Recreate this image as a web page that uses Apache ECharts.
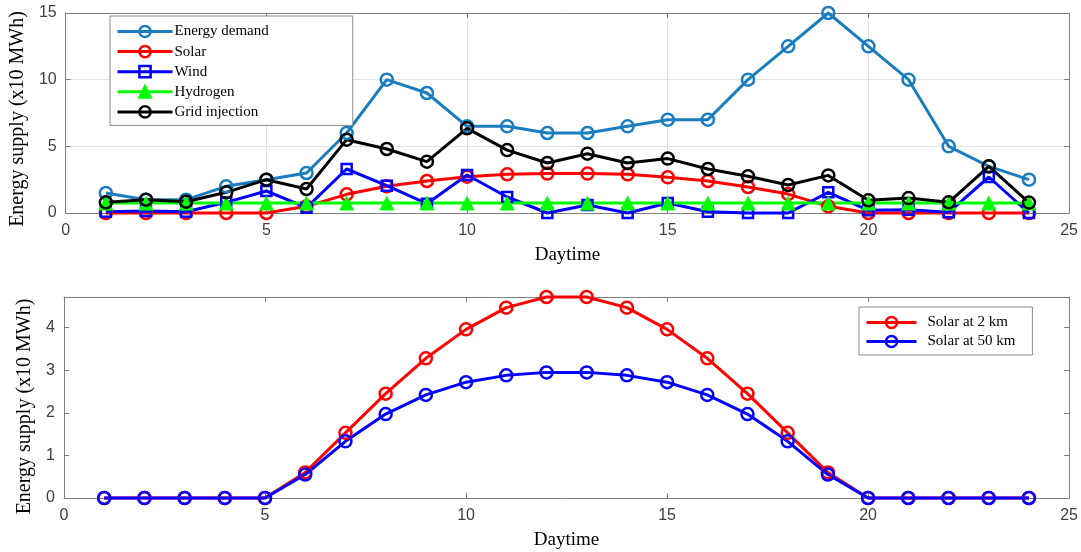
<!DOCTYPE html>
<html>
<head>
<meta charset="utf-8">
<script src="https://cdn.jsdelivr.net/npm/echarts@6/dist/echarts.min.js"></script>
<style>
  html, body { margin: 0; padding: 0; background: #fff; }
  #chart { width: 1081px; height: 552px; }
</style>
</head>
<body>
<div id="chart"></div>
<script>
// Hours of the day (x axis)
const hours = [1, 2, 3, 4, 5, 6, 7, 8, 9, 10, 11, 12, 13, 14, 15, 16, 17, 18, 19, 20, 21, 22, 23, 24];

// Upper panel: hourly demand and supply mix (x10 MWh)
const energyDemand = [1.5, 1.0, 1.0, 2.0, 2.5, 3.0, 6.0, 10.0, 9.0, 6.5, 6.5, 6.0, 6.0, 6.5, 7.0, 7.0, 10.0, 12.5, 15.0, 12.5, 10.0, 5.0, 3.5, 2.5];
const solar        = [0, 0, 0, 0, 0, 0.5, 1.4, 2.0, 2.4, 2.72, 2.9, 2.96, 2.96, 2.9, 2.68, 2.4, 1.95, 1.42, 0.5, 0, 0, 0, 0, 0];
const wind         = [0.1, 0.15, 0.1, 0.8, 1.65, 0.4, 3.3, 2.05, 0.7, 2.85, 1.2, 0, 0.6, 0, 0.75, 0.1, 0, 0, 1.55, 0.2, 0.25, 0.05, 2.7, 0];
const hydrogen     = [0.75, 0.75, 0.75, 0.75, 0.75, 0.75, 0.75, 0.75, 0.75, 0.75, 0.75, 0.75, 0.75, 0.75, 0.75, 0.75, 0.75, 0.75, 0.75, 0.75, 0.75, 0.75, 0.75, 0.75];
const gridInject   = [0.8, 1.0, 0.85, 1.55, 2.5, 1.8, 5.5, 4.8, 3.85, 6.35, 4.72, 3.75, 4.45, 3.75, 4.08, 3.3, 2.75, 2.1, 2.82, 0.95, 1.12, 0.8, 3.5, 0.78];

// Lower panel: solar output at two distances (x10 MWh)
const solar2km  = [0, 0, 0, 0, 0, 0.6, 1.53, 2.45, 3.28, 3.96, 4.47, 4.72, 4.72, 4.47, 3.96, 3.28, 2.45, 1.53, 0.6, 0, 0, 0, 0, 0];
const solar50km = [0, 0, 0, 0, 0, 0.55, 1.33, 1.97, 2.42, 2.72, 2.88, 2.95, 2.95, 2.88, 2.72, 2.42, 1.97, 1.33, 0.55, 0, 0, 0, 0, 0];

// Axis ticks
const xTicks = { min: 0, max: 25, interval: 5 };
const yTicksTop = { min: 0, max: 15, interval: 5 };
const yTicksBottom = { min: 0, max: Math.max(...solar2km), interval: 1 };

const SANS = 'Liberation Sans, Arial, sans-serif';
const SERIF = 'Liberation Serif, Times New Roman, serif';
const AXIS_GRAY = '#7f7f7f';
const LABEL_GRAY = '#404040';

function pairs(ys) { return hours.map((h, i) => [h, ys[i]]); }

function lineSeries(name, ys, color, symbol, symbolSize, filled, xi, yi) {
  return {
    name, type: 'line', xAxisIndex: xi, yAxisIndex: yi,
    data: pairs(ys),
    symbol, symbolSize,
    showAllSymbol: true,
    clip: false,
    color,
    lineStyle: { color, width: 3 },
    itemStyle: filled
      ? { color, borderColor: color, borderWidth: 0 }
      : { color: 'rgba(255,255,255,0)', borderColor: color, borderWidth: 2.5 },
    emphasis: { disabled: true },
    animation: false
  };
}

function xAxis(gridIndex, pos, named) {
  return {
    type: 'value', gridIndex, position: pos,
    min: xTicks.min, max: xTicks.max, interval: xTicks.interval,
    axisLine: { show: true, onZero: false, lineStyle: { color: AXIS_GRAY, width: 1 } },
    axisTick: { show: true, inside: true, length: 5, lineStyle: { color: AXIS_GRAY } },
    axisLabel: { show: named, margin: 10, fontFamily: SANS, fontSize: 16, color: LABEL_GRAY },
    splitLine: { show: named && gridIndex === 0, lineStyle: { color: '#e3e3e3', width: 1 } },
    name: named ? 'Daytime' : '',
    nameLocation: 'middle', nameGap: 33,
    nameTextStyle: { fontFamily: SERIF, fontSize: 19, color: '#000' }
  };
}

function yAxis(gridIndex, pos, named, ticks, gap, namePad) {
  return {
    type: 'value', gridIndex, position: pos,
    min: ticks.min, max: ticks.max, interval: ticks.interval,
    axisLine: { show: true, onZero: false, lineStyle: { color: AXIS_GRAY, width: 1 } },
    axisTick: { show: true, inside: true, length: 5, lineStyle: { color: AXIS_GRAY } },
    axisLabel: { show: named, margin: 9, fontFamily: SANS, fontSize: 16, color: LABEL_GRAY, showMaxLabel: gridIndex === 0 },
    splitLine: { show: named && gridIndex === 0, lineStyle: { color: '#e3e3e3', width: 1 } },
    name: named ? 'Energy supply (x10 MWh)' : '',
    nameLocation: 'middle', nameGap: gap,
    nameTextStyle: { fontFamily: SERIF, fontSize: 20, color: '#000', padding: namePad || 0 }
  };
}

const legendBase = {
  orient: 'vertical',
  backgroundColor: '#fff', borderColor: '#8a8a8a', borderWidth: 1, borderRadius: 0,
  lineStyle: { width: 3 },
  itemStyle: { borderWidth: 2.5 },
  selectedMode: false
};

const chart = echarts.init(document.getElementById('chart'), null, { renderer: 'canvas' });

chart.setOption({
  backgroundColor: '#fff',
  animation: false,
  grid: [
    { left: 64, top: 13, width: 1006, height: 200 },
    { left: 64, top: 297, width: 1006, height: 201 }
  ],
  xAxis: [
    xAxis(0, 'bottom', true), xAxis(0, 'top', false),
    xAxis(1, 'bottom', true), xAxis(1, 'top', false)
  ],
  yAxis: [
    yAxis(0, 'left', true, yTicksTop, 34, [0, 12, 0, 0]), yAxis(0, 'right', false, yTicksTop, 0),
    yAxis(1, 'left', true, yTicksBottom, 23, [0, 18, 0, 0]), yAxis(1, 'right', false, yTicksBottom, 0)
  ],
  legend: [
    Object.assign({}, legendBase, {
      data: ['Energy demand', 'Solar', 'Wind', 'Hydrogen', 'Grid injection'],
      left: 110, top: 16,
      itemWidth: 55, itemHeight: 14, itemGap: 5.1,
      padding: [8, 84, 6, 6],
      textStyle: { fontFamily: SERIF, fontSize: 15, color: '#000', padding: [0, 0, 0, -3] }
    }),
    Object.assign({}, legendBase, {
      data: ['Solar at 2 km', 'Solar at 50 km'],
      left: 859, top: 307,
      itemWidth: 50, itemHeight: 14, itemGap: 4,
      padding: [8, 17, 6, 6],
      textStyle: { fontFamily: SERIF, fontSize: 15, color: '#000', padding: [0, 0, 0, 6] }
    })
  ],
  series: [
    lineSeries('Energy demand', energyDemand, '#1a7dbf', 'circle', 12, false, 0, 0),
    lineSeries('Solar', solar, '#ff0000', 'circle', 12, false, 0, 0),
    lineSeries('Wind', wind, '#0000ff', 'rect', 10, false, 0, 0),
    lineSeries('Hydrogen', hydrogen, '#00ff00', 'triangle', 15, true, 0, 0),
    lineSeries('Grid injection', gridInject, '#000000', 'circle', 12, false, 0, 0),
    lineSeries('Solar at 2 km', solar2km, '#ff0000', 'circle', 12, false, 2, 2),
    lineSeries('Solar at 50 km', solar50km, '#0000ff', 'circle', 12, false, 2, 2)
  ]
});
</script>
</body>
</html>
